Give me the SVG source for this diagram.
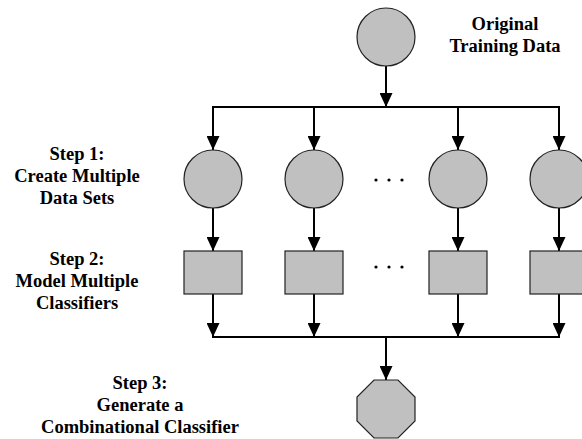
<svg xmlns="http://www.w3.org/2000/svg" width="582" height="439" viewBox="0 0 582 439">
  <style>
    .lbl { font-family: "Liberation Serif", "Times New Roman", serif; font-weight: bold; font-size: 18.5px; fill: #000; text-anchor: middle; }
    .shape { fill: #c0c0c0; stroke: #222; stroke-width: 1.2; }
    .wire { fill: none; stroke: #000; stroke-width: 2; }
    .dot { fill: #000; }
  </style>
  <defs>
    <marker id="arrow" viewBox="0 0 14 13" refX="14" refY="6.5" markerWidth="14" markerHeight="13" markerUnits="userSpaceOnUse" orient="auto">
      <path d="M0,0 L14,6.5 L0,13 Z" fill="#000"/>
    </marker>
  </defs>

  <rect width="582" height="439" fill="#fff"/>

  <!-- connectors -->
  <g id="connectors" class="wire">
    <line x1="386" y1="66" x2="386" y2="107" marker-end="url(#arrow)"/>
    <line x1="212" y1="107" x2="560" y2="107"/>
    <line x1="213" y1="107" x2="213" y2="150" marker-end="url(#arrow)"/>
    <line x1="314" y1="107" x2="314" y2="150" marker-end="url(#arrow)"/>
    <line x1="458" y1="107" x2="458" y2="150" marker-end="url(#arrow)"/>
    <line x1="559" y1="107" x2="559" y2="150" marker-end="url(#arrow)"/>
    <line x1="213" y1="208" x2="213" y2="251" marker-end="url(#arrow)"/>
    <line x1="314" y1="208" x2="314" y2="251" marker-end="url(#arrow)"/>
    <line x1="458" y1="208" x2="458" y2="251" marker-end="url(#arrow)"/>
    <line x1="559" y1="208" x2="559" y2="251" marker-end="url(#arrow)"/>
    <line x1="213" y1="294" x2="213" y2="337" marker-end="url(#arrow)"/>
    <line x1="314" y1="294" x2="314" y2="337" marker-end="url(#arrow)"/>
    <line x1="458" y1="294" x2="458" y2="337" marker-end="url(#arrow)"/>
    <line x1="559" y1="294" x2="559" y2="337" marker-end="url(#arrow)"/>
    <line x1="212" y1="337" x2="560" y2="337"/>
    <line x1="386" y1="337" x2="386" y2="380" marker-end="url(#arrow)"/>
  </g>

  <!-- source data -->
  <g id="original-data">
    <circle class="shape" cx="386" cy="37" r="29"/>
    <text class="lbl" x="505" y="30">Original</text>
    <text class="lbl" x="505" y="52">Training Data</text>
  </g>

  <!-- step 1: data sets -->
  <g id="step1-label">
    <text class="lbl" x="77" y="160">Step 1:</text>
    <text class="lbl" x="77" y="182">Create Multiple</text>
    <text class="lbl" x="77" y="204">Data Sets</text>
  </g>
  <g id="dataset-1"><circle class="shape" cx="213" cy="179" r="29"/></g>
  <g id="dataset-2"><circle class="shape" cx="314" cy="179" r="29"/></g>
  <g id="dataset-3"><circle class="shape" cx="458" cy="179" r="29"/></g>
  <g id="dataset-4"><circle class="shape" cx="559" cy="179" r="29"/></g>
  <g id="dataset-ellipsis">
    <circle class="dot" cx="376" cy="180" r="1.6"/>
    <circle class="dot" cx="389" cy="180" r="1.6"/>
    <circle class="dot" cx="402" cy="180" r="1.6"/>
  </g>

  <!-- step 2: classifiers -->
  <g id="step2-label">
    <text class="lbl" x="77" y="265">Step 2:</text>
    <text class="lbl" x="77" y="287">Model Multiple</text>
    <text class="lbl" x="77" y="309">Classifiers</text>
  </g>
  <g id="classifier-1"><rect class="shape" x="184" y="251" width="58" height="43"/></g>
  <g id="classifier-2"><rect class="shape" x="285" y="251" width="58" height="43"/></g>
  <g id="classifier-3"><rect class="shape" x="429" y="251" width="58" height="43"/></g>
  <g id="classifier-4"><rect class="shape" x="530" y="251" width="58" height="43"/></g>
  <g id="classifier-ellipsis">
    <circle class="dot" cx="376" cy="267" r="1.6"/>
    <circle class="dot" cx="389" cy="267" r="1.6"/>
    <circle class="dot" cx="402" cy="267" r="1.6"/>
  </g>

  <!-- step 3: combined classifier -->
  <g id="step3-label">
    <text class="lbl" x="140" y="389">Step 3:</text>
    <text class="lbl" x="140" y="411">Generate a</text>
    <text class="lbl" x="140" y="433">Combinational Classifier</text>
  </g>
  <g id="combined-classifier">
    <polygon class="shape" points="374,380 398,380 415,397 415,421 398,438 374,438 357,421 357,397"/>
  </g>
</svg>
